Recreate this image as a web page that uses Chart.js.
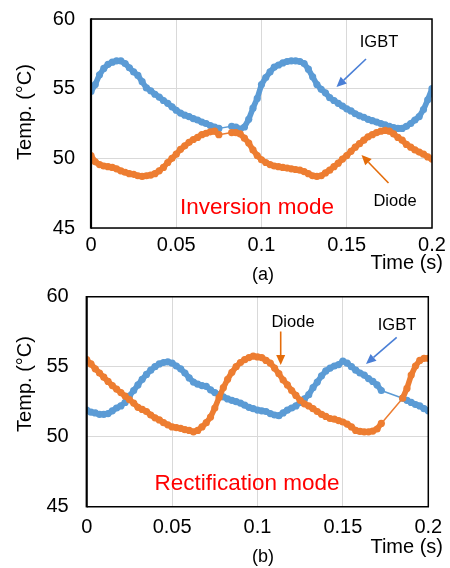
<!DOCTYPE html>
<html>
<head>
<meta charset="utf-8">
<script src="https://cdn.jsdelivr.net/npm/chart.js@4"></script>
<style>
  body { margin: 0; background: #fff; }
  canvas { display: block; }
</style>
</head>
<body>
<canvas id="chartA" width="450" height="284"></canvas>
<canvas id="chartB" width="450" height="284"></canvas>
<script>
// (a) inversion mode - samples missing between 0.075 and 0.0825 s
const timeA = [
  0, 0.0025, 0.005, 0.0075, 0.01, 0.0125, 0.015, 0.0175,
  0.02, 0.0225, 0.025, 0.0275, 0.03, 0.0325, 0.035, 0.0375,
  0.04, 0.0425, 0.045, 0.0475, 0.05, 0.0525, 0.055, 0.0575,
  0.06, 0.0625, 0.065, 0.0675, 0.07, 0.0725, 0.075,
  0.0825, 0.085, 0.0875, 0.09, 0.0925, 0.095, 0.0975, 0.1,
  0.1025, 0.105, 0.1075, 0.11, 0.1125, 0.115, 0.1175, 0.12,
  0.1225, 0.125, 0.1275, 0.13, 0.1325, 0.135, 0.1375, 0.14,
  0.1425, 0.145, 0.1475, 0.15, 0.1525, 0.155, 0.1575, 0.16,
  0.1625, 0.165, 0.1675, 0.17, 0.1725, 0.175, 0.1775, 0.18,
  0.1825, 0.185, 0.1875, 0.19, 0.1925, 0.195, 0.1975, 0.2
];
const igbtA = [
  54.8, 55.3, 56.0, 56.45, 56.75, 56.9, 57.0, 57.0,
  56.8, 56.5, 56.2, 55.95, 55.5, 55.05, 54.85, 54.6,
  54.4, 54.15, 53.95, 53.7, 53.45, 53.25, 53.1, 53.0,
  52.85, 52.75, 52.6, 52.5, 52.35, 52.25, 52.15,
  52.3, 52.25, 52.1, 52.25, 52.8, 53.6, 54.3, 55.3,
  55.8, 56.2, 56.55, 56.7, 56.85, 56.95, 57.0, 57.0,
  56.95, 56.8, 56.4, 55.85, 55.3, 54.95, 54.7, 54.35,
  54.15, 53.95, 53.75, 53.55, 53.4, 53.2, 53.05, 52.95,
  52.8, 52.7, 52.6, 52.5, 52.4, 52.3, 52.2, 52.15,
  52.15, 52.3, 52.5, 52.75, 53.0, 53.5, 54.2, 55.0
];
const diodeA = [
  50.2, 49.75, 49.55, 49.45, 49.4, 49.35, 49.25, 49.1,
  49.0, 48.9, 48.85, 48.75, 48.7, 48.75, 48.8, 48.9,
  49.1, 49.35, 49.7, 50.0, 50.3, 50.65, 50.9, 51.15,
  51.35, 51.5, 51.7, 51.8, 51.9, 51.95, 51.7,
  51.85, 51.85, 51.75, 51.45, 51.1, 50.6, 50.2, 49.9,
  49.7, 49.55, 49.45, 49.4, 49.35, 49.3, 49.25, 49.2,
  49.15, 49.05, 48.9, 48.75, 48.7, 48.75, 48.95, 49.15,
  49.4, 49.65, 49.95, 50.2, 50.5, 50.8, 51.05, 51.3,
  51.55, 51.7, 51.85, 51.95, 52.0, 51.95, 51.75, 51.5,
  51.3, 51.0, 50.8, 50.6, 50.45, 50.3, 50.1, 49.95
];

// (b) rectification mode - samples missing between 0.1725 and 0.185 s
const timeB = [
  0, 0.0025, 0.005, 0.0075, 0.01, 0.0125, 0.015, 0.0175,
  0.02, 0.0225, 0.025, 0.0275, 0.03, 0.0325, 0.035, 0.0375,
  0.04, 0.0425, 0.045, 0.0475, 0.05, 0.0525, 0.055, 0.0575,
  0.06, 0.0625, 0.065, 0.0675, 0.07, 0.0725, 0.075, 0.0775,
  0.08, 0.0825, 0.085, 0.0875, 0.09, 0.0925, 0.095, 0.0975,
  0.1, 0.1025, 0.105, 0.1075, 0.11, 0.1125, 0.115, 0.1175,
  0.12, 0.1225, 0.125, 0.1275, 0.13, 0.1325, 0.135, 0.1375,
  0.14, 0.1425, 0.145, 0.1475, 0.15, 0.1525, 0.155, 0.1575,
  0.16, 0.1625, 0.165, 0.1675, 0.17, 0.1725,
  0.185, 0.1875, 0.19, 0.1925, 0.195, 0.1975, 0.2
];
const igbtB = [
  51.9, 51.75, 51.7, 51.6, 51.6, 51.65, 51.85, 52.05,
  52.2, 52.45, 52.9, 53.3, 53.7, 54.1, 54.45, 54.75,
  55.0, 55.2, 55.3, 55.35, 55.25, 55.05, 54.85, 54.55,
  54.2, 53.9, 53.75, 53.65, 53.6, 53.35, 53.15, 53.0,
  52.85, 52.7, 52.6, 52.5, 52.4, 52.25, 52.1, 52.0,
  51.9, 51.85, 51.8, 51.65, 51.55, 51.5, 51.7, 51.9,
  52.05, 52.2, 52.45, 52.7, 53.0, 53.5, 53.9, 54.35,
  54.7, 54.9, 55.05, 55.15, 55.4, 55.25, 55.0, 54.75,
  54.55, 54.4, 54.15, 53.95, 53.7, 53.3,
  52.75, 52.6, 52.45, 52.3, 52.2, 52.0, 51.85
];
const diodeB = [
  55.5, 55.2, 54.85, 54.55, 54.25, 53.95, 53.65, 53.4,
  53.15, 52.9, 52.65, 52.4, 52.1, 51.95, 51.8, 51.55,
  51.35, 51.2, 51.0, 50.85, 50.7, 50.65, 50.6, 50.5,
  50.45, 50.35, 50.45, 50.7, 51.0, 51.4, 52.05, 52.8,
  53.5, 54.1, 54.6, 55.0, 55.3, 55.5, 55.65, 55.75,
  55.7, 55.65, 55.45, 55.25, 54.9, 54.5, 54.05, 53.7,
  53.3, 52.95, 52.6, 52.35, 52.2, 52.0, 51.8, 51.6,
  51.45, 51.3, 51.25, 51.15, 51.05, 50.9, 50.7, 50.45,
  50.38, 50.35, 50.35, 50.4, 50.55, 50.95,
  52.75, 53.45, 54.4, 55.05, 55.45, 55.6, 55.6
];

const xTickLabels = ['0', '0.05', '0.1', '0.15', '0.2'];
const yTickLabels = ['45', '50', '55', '60'];

const BLUE = '#5b9bd5';
const ORANGE = '#ed7d31';
const FONT = '"Liberation Sans", Arial, sans-serif';

function arrow(ctx, x1, y1, x2, y2, color) {
  const ang = Math.atan2(y2 - y1, x2 - x1);
  const hl = 10, hw = 4.5;
  const bx = x2 - hl * Math.cos(ang), by = y2 - hl * Math.sin(ang);
  ctx.strokeStyle = color;
  ctx.fillStyle = color;
  ctx.lineWidth = 1.6;
  ctx.beginPath();
  ctx.moveTo(x1, y1);
  ctx.lineTo(bx, by);
  ctx.stroke();
  ctx.beginPath();
  ctx.moveTo(x2, y2);
  ctx.lineTo(bx + hw * Math.sin(ang), by - hw * Math.cos(ang));
  ctx.lineTo(bx - hw * Math.sin(ang), by + hw * Math.cos(ang));
  ctx.closePath();
  ctx.fill();
}

// frame, axis titles and notes
const decor = {
  id: 'decor',
  afterDraw(chart, args, o) {
    const { ctx, chartArea: a } = chart;
    ctx.save();
    ctx.strokeStyle = '#000';
    ctx.lineWidth = 1.5;
    ctx.beginPath();
    ctx.moveTo(a.left, a.top);
    ctx.lineTo(a.right, a.top);
    ctx.lineTo(a.right, a.bottom);
    ctx.lineTo(a.left, a.bottom);
    ctx.stroke();
    ctx.lineWidth = 2.2;
    ctx.beginPath();
    ctx.moveTo(a.left, a.top - 0.7);
    ctx.lineTo(a.left, a.bottom + 0.7);
    ctx.stroke();

    ctx.textBaseline = 'middle';
    // y title
    ctx.save();
    ctx.translate(25, o.yTitleY);
    ctx.rotate(-Math.PI / 2);
    ctx.font = '20px ' + FONT;
    ctx.fillStyle = '#000';
    ctx.textAlign = 'center';
    ctx.fillText('Temp. (\u00B0C)', 0, 0);
    ctx.restore();

    o.texts.forEach(t => {
      ctx.font = t.size + 'px ' + FONT;
      ctx.fillStyle = t.color || '#000';
      ctx.textAlign = t.align || 'center';
      ctx.fillText(t.text, t.x, t.y);
    });
    o.arrows.forEach(r => arrow(ctx, r[0], r[1], r[2], r[3], r[4]));
    ctx.restore();
  }
};

// thick band where samples are dense, thin line across missing samples
const bandWidth = c => (c.p1.parsed.x - c.p0.parsed.x > 0.004 ? 1.5 : 5.6);

function makeChart(id, time, igbt, diode, pad, xTickPad, yTickPad, notes) {
  const series = (vals, color) => ({
    data: time.map((t, i) => ({ x: t, y: vals[i] })),
    borderColor: color, backgroundColor: color, borderWidth: 5.6,
    borderCapStyle: 'round', borderJoinStyle: 'round',
    segment: { borderWidth: bandWidth },
    pointRadius: 3.6, pointBorderWidth: 0, tension: 0
  });
  new Chart(document.getElementById(id), {
    type: 'line',
    data: {
      datasets: [
        Object.assign({ label: 'Diode' }, series(diode, ORANGE)),
        Object.assign({ label: 'IGBT' }, series(igbt, BLUE))
      ]
    },
    options: {
      responsive: false,
      animation: false,
      events: [],
      layout: { padding: { top: pad.top, right: pad.right, left: 0, bottom: 0 } },
      plugins: { legend: { display: false }, tooltip: { enabled: false }, decor: notes },
      scales: {
        x: {
          type: 'linear', min: 0, max: 0.2,
          afterFit: s => { s.height = pad.xh; s.paddingLeft = 0; s.paddingRight = 0; },
          border: { display: false },
          grid: { color: '#d9d9d9', lineWidth: 1, drawTicks: false },
          ticks: {
            stepSize: 0.05, padding: xTickPad, color: '#000', maxRotation: 0,
            font: { family: FONT, size: 20 },
            callback: v => xTickLabels[Math.round(v / 0.05)]
          }
        },
        y: {
          min: 45, max: 60,
          afterFit: s => { s.width = pad.yw; s.paddingTop = 0; s.paddingBottom = 0; },
          border: { display: false },
          grid: { color: '#d9d9d9', lineWidth: 1, drawTicks: false },
          ticks: {
            stepSize: 5, padding: yTickPad, color: '#000',
            font: { family: FONT, size: 20 },
            callback: v => yTickLabels[Math.round((v - 45) / 5)]
          }
        }
      }
    },
    plugins: [decor]
  });
}

makeChart('chartA', timeA, igbtA, diodeA,
  { top: 19, right: 18, yw: 91, xh: 56 }, 5, 16, {
    yTitleY: 112,
    texts: [
      { text: 'IGBT', x: 379, y: 42, size: 16.5 },
      { text: 'Diode', x: 395, y: 201, size: 16.5 },
      { text: 'Inversion mode', x: 257, y: 208, size: 22.5, color: '#ff0000' },
      { text: 'Time (s)', x: 443, y: 263, size: 20, align: 'right' },
      { text: '(a)', x: 263, y: 275, size: 18 }
    ],
    arrows: [
      [366, 59, 336.5, 87, '#4a7fd6'],
      [388.5, 183, 361.5, 155, '#e46c0a']
    ]
  });

makeChart('chartB', timeB, igbtB, diodeB,
  { top: 12.7, right: 21.7, yw: 86.7, xh: 61.3 }, 9, 18, {
    yTitleY: 100,
    texts: [
      { text: 'Diode', x: 293, y: 38, size: 16.5 },
      { text: 'IGBT', x: 397, y: 41, size: 16.5 },
      { text: 'Rectification mode', x: 247, y: 199.5, size: 22.5, color: '#ff0000' },
      { text: 'Time (s)', x: 443, y: 263, size: 20, align: 'right' },
      { text: '(b)', x: 263, y: 273, size: 18 }
    ],
    arrows: [
      [280.7, 47.5, 280.7, 81, '#e46c0a'],
      [396.7, 53.3, 366, 80, '#4a7fd6']
    ]
  });
</script>
</body>
</html>
